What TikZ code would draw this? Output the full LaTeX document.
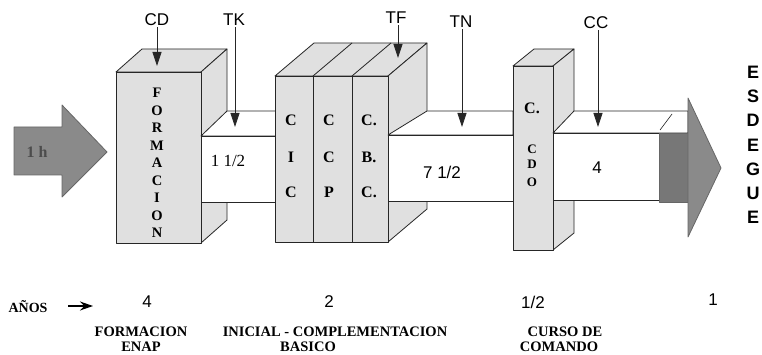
\documentclass[tikz,border=0pt]{standalone}
\usepackage{fontspec}
\setmainfont{Liberation Serif}
\setsansfont{Liberation Sans}
\usetikzlibrary{arrows.meta}
\definecolor{face}{HTML}{E0E0E0}
\definecolor{arrowgray}{HTML}{8A8A8A}
\definecolor{shaftgray}{HTML}{777777}
\tikzset{
  edge/.style={draw=black!85, line width=0.8pt, line join=round},
  boxface/.style={edge, fill=face},
  tubeface/.style={edge, fill=white},
  lbl/.style={font=\sffamily\fontsize{17}{17}\selectfont, inner sep=1pt},
  pointer/.style={draw=black!85, line width=0.8pt, -{Triangle[length=14pt,width=9pt]}},
  slab/.style={font=\rmfamily\bfseries\fontsize{16}{16}\selectfont, inner sep=0pt},
  vert/.style={font=\rmfamily\bfseries\fontsize{14.5}{14.5}\selectfont, inner sep=0pt},
  cdo/.style={font=\rmfamily\bfseries\fontsize{13}{13}\selectfont, inner sep=0pt},
  esd/.style={font=\sffamily\bfseries\fontsize{18}{18}\selectfont, inner sep=0pt},
  num/.style={font=\sffamily\fontsize{17}{17}\selectfont, inner sep=0pt},
  bottom/.style={font=\rmfamily\bfseries\fontsize{14.5}{14.5}\selectfont, inner sep=0pt}
}
\begin{document}
\begin{tikzpicture}[x=1pt,y=-1pt]
\useasboundingbox (0,0) rectangle (762,355);
\fill[white] (0,0) rectangle (762,355);

% left input arrow
\draw[edge, fill=arrowgray, draw=black!60] (14,127) -- (62,127) -- (62,105) -- (107,152) -- (62,197) -- (62,175) -- (14,175) -- cycle;
\node[font=\rmfamily\bfseries\fontsize{16}{16}\selectfont, text=black!70] (inp) at (37,152) {1 h};

% FORMACION box
\draw[boxface] (116,72) -- (142,49) -- (227,49) -- (201,72) -- cycle;
\draw[boxface] (201,72) -- (227,49) -- (227,220) -- (201,243) -- cycle;
\draw[boxface] (116,72) rectangle (201,243);
\foreach \l [count=\i] in {F,O,R,M,A,C,I,O,N}
  \node[vert] (f\i) at (157,{93+17.5*(\i-1)}) {\l};

% tube 1
\draw[tubeface] (201,136) -- (227,111) -- (276,111) -- (276,136) -- cycle;
\draw[tubeface] (201,136) rectangle (276,202);
\node[font=\rmfamily\fontsize{17}{17}\selectfont] (t1) at (228,161) {1 1/2};

% CIC / CCP / CBC block
\draw[boxface] (275,76) -- (314,43) -- (427,43) -- (388,76) -- cycle;
\draw[edge] (313,76) -- (352,43);
\draw[edge] (352,76) -- (391,43);
\draw[boxface] (388,76) -- (427,43) -- (427,209) -- (388,242) -- cycle;
\draw[boxface] (275,76) rectangle (388,242);
\draw[edge] (313,76) -- (313,242);
\draw[edge] (352,76) -- (352,242);
\node[slab] (a1) at (291,120) {C};
\node[slab] (a2) at (291,157) {I};
\node[slab] (a3) at (291,192) {C};
\node[slab] (b1) at (329,120) {C};
\node[slab] (b2) at (329,157) {C};
\node[slab] (b3) at (329,192) {P};
\node[slab] (c1) at (369,120) {C.};
\node[slab] (c2) at (369,157) {B.};
\node[slab] (c3) at (369,192) {C.};

% tube 2
\draw[tubeface] (388,135) -- (427,111) -- (513,111) -- (513,135) -- cycle;
\draw[tubeface] (388,135) rectangle (513,201);
\node[num] (t2) at (442,172) {7 1/2};

% C. CDO box
\draw[boxface] (513,66) -- (534,49) -- (574,49) -- (553,66) -- cycle;
\draw[boxface] (553,66) -- (574,49) -- (574,233) -- (553,250) -- cycle;
\draw[boxface] (513,66) rectangle (553,250);
\node[slab] (d1) at (532,108) {C.};
\node[cdo] (d2) at (532,149) {C};
\node[cdo] (d3) at (532,164) {D};
\node[cdo] (d4) at (532,182) {O};

% tube 3 and output arrow
\draw[tubeface] (553,133) -- (574,111) -- (688,111) -- (688,133) -- cycle;
\draw[tubeface] (553,133) rectangle (659,200);
\draw[edge, line width=0.6pt] (660,130) -- (672,114);
\draw[edge, fill=shaftgray, draw=black!60] (659,133) rectangle (688,202);
\draw[edge, fill=arrowgray, draw=black!60] (688,98) -- (721,168) -- (688,237) -- (688,202) -- (688,133) -- cycle;
\node[num] (t3) at (597,168) {4};

% top pointers
\node[lbl] (cd) at (157,20) {CD};
\node[lbl] (tk) at (234,20) {TK};
\node[lbl] (tf) at (396,18) {TF};
\node[lbl] (tn) at (461,22) {TN};
\node[lbl] (cc) at (596,23) {CC};
\coordinate (pcd) at (157,66);
\coordinate (ptk) at (235,127);
\coordinate (ptf) at (398,58);
\coordinate (ptn) at (462,127);
\coordinate (pcc) at (598,127);
\draw[pointer] (cd.south -| pcd) -- (pcd);
\draw[pointer] (tk.south -| ptk) -- (ptk);
\draw[pointer] (tf.south -| ptf) -- (ptf);
\draw[pointer] (tn.south -| ptn) -- (ptn);
\draw[pointer] (cc.south -| pcc) -- (pcc);

% ESDEGUE
\foreach \l [count=\i] in {E,S,D,E,G,U,E}
  \node[esd] (e\i) at (753,{72+24.3*(\i-1)}) {\l};

% bottom scale
\node[font=\rmfamily\bfseries\fontsize{14}{14}\selectfont, inner sep=0pt] (anos) at (28,307) {AÑOS};
\coordinate (anosend) at (93,306);
\draw[line width=1.2pt, -{Stealth[length=13pt,width=9pt]}] (68,306) -- (anosend);
\node[num] (n1) at (147,302) {4};
\node[num] (n2) at (329,302) {2};
\node[num] (n3) at (533,302) {1/2};
\node[num] (n4) at (713,300) {1};
\node[bottom] (l1a) at (141,332) {FORMACION};
\node[bottom] (l1b) at (141,347) {ENAP};
\node[bottom] (l2a) at (335,332) {INICIAL - COMPLEMENTACION};
\node[bottom] (l2b) at (308,347) {BASICO};
\node[bottom] (l3a) at (565,332) {CURSO DE};
\node[bottom] (l3b) at (559,347) {COMANDO};
\end{tikzpicture}
\end{document}
